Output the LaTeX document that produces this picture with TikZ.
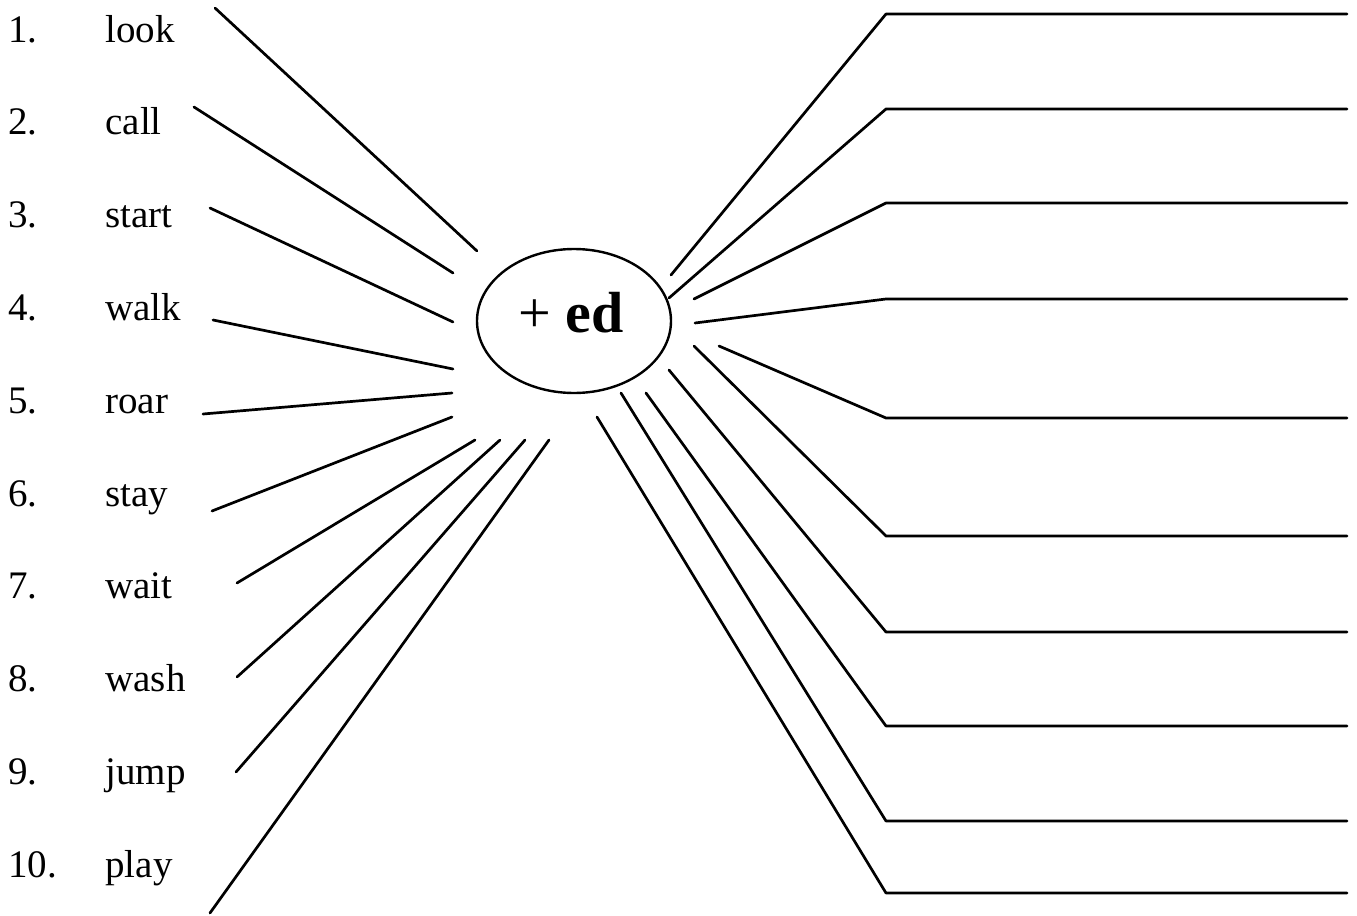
\documentclass[tikz,border=0pt]{standalone}
\usepackage{fontspec}
\newfontfamily\edfont{Liberation Serif}
\usetikzlibrary{shapes.geometric}

\begin{document}
\begin{tikzpicture}[x=0.5pt, y=-0.5pt, line cap=round,
    spoke/.style={line width=1.35pt, black},
    suffixbox/.style={ellipse, draw, line width=1.2pt, minimum width=97pt, minimum height=72pt, inner sep=0pt},
    wordlabel/.style={anchor=base west, inner sep=0pt, font=\edfont\fontsize{19.5}{22}\selectfont}]

    \useasboundingbox (0,0) rectangle (1357,916);

    % --- Woerter links ---
    \foreach \i/\w in {1/look,2/call,3/start,4/walk,5/roar,6/stay,7/wait,8/wash,9/jump,10/play}{
        \node[wordlabel] (num\i) at (8,{42+(\i-1)*92.8}) {\i.};
        \node[wordlabel] (word\i) at (105,{42+(\i-1)*92.8}) {\w};
    }

    % --- Ellipse mit Endung ---
    \node[suffixbox] (suffix) at (574,321) {};
    \node[inner sep=0pt, font=\edfont\fontsize{29}{32}\selectfont] (suffixtext) at (571,313) {+ \textbf{ed}};

    % --- Linien links ---
    \foreach \i/\ax/\ay/\bx/\by in {1/215/8/477/251, 2/194/107/453/273, 3/210/208/453/322,
        4/213/320/453/369, 5/203/414/452/393, 6/212/511/452/417, 7/237/583/475/440,
        8/237/677/500/440, 9/236/772/525/440, 10/210/913/549/440}{
        \coordinate (la\i) at (\ax,\ay);
        \coordinate (lb\i) at (\bx,\by);
        \draw[spoke] (la\i) -- (lb\i);
    }

    % --- Linien rechts (mit Schreiblinie) ---
    \foreach \i/\sx/\sy/\ky in {1/671/275/14, 2/669/298/109, 3/694/299/203, 4/695/323/299,
        5/719/346/418, 6/694/346/536, 7/669/370/632, 8/646/393/726, 9/621/393/821, 10/597/417/893}{
        \coordinate (rs\i) at (\sx,\sy);
        \coordinate (rk\i) at (886,\ky);
        \coordinate (re\i) at (1347,\ky);
        \draw[spoke, line join=round] (rs\i) -- (rk\i) -- (re\i);
    }

\end{tikzpicture}
\end{document}
